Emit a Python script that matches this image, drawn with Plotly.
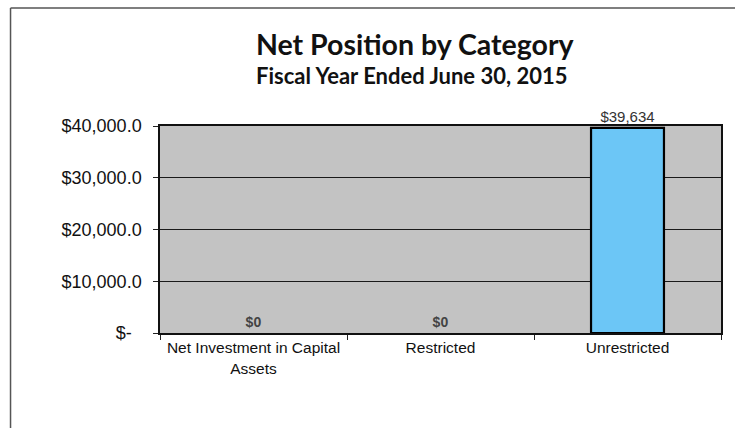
import plotly.graph_objects as go

categories = ["Net Investment in Capital<br>Assets", "Restricted", "Unrestricted"]
values = [0, 0, 39634]
labels = ["<b>$0</b>", "<b>$0</b>", "$39,634"]
y_ticks = [0, 10000, 20000, 30000, 40000]
y_tick_labels = ["$-\u00a0\u00a0", "$10,000.0", "$20,000.0", "$30,000.0", "$40,000.0"]
bar_colors = ["#6cc6f6", "#6cc6f6", "#6cc6f6"]

W, H = 735, 428
L, R, T, B = 160, 12, 126, 95
PW, PH = W - L - R, H - T - B


def px_x(x):
    return (x - L) / PW


def px_y(y):
    return 1 + (T - y) / PH


fig = go.Figure()
fig.add_trace(go.Bar(
    x=categories, y=values, text=labels, textposition="outside",
    textfont=dict(family="Arial, Liberation Sans", size=[14, 14, 15],
                  color=["#444444", "#444444", "#333333"]),
    marker=dict(color=bar_colors, line=dict(color="#000000", width=[0, 0, 2.2])),
    width=0.39, cliponaxis=False,
))

fig.update_layout(
    width=W, height=H,
    margin=dict(l=L, r=R, t=T, b=B),
    paper_bgcolor="#ffffff", plot_bgcolor="#c3c3c3",
    showlegend=False,
    font=dict(family="Arial, Liberation Sans", color="#111111"),
    annotations=[
        dict(text="<b>Net Position by Category</b>", xref="paper", yref="paper",
             x=px_x(416), y=px_y(44),
             showarrow=False, xanchor="center", yanchor="middle",
             font=dict(family="Lato", size=28.5, color="#111111")),
        dict(text="<b>Fiscal Year Ended June 30, 2015</b>", xref="paper", yref="paper",
             x=px_x(413), y=px_y(75),
             showarrow=False, xanchor="center", yanchor="middle",
             font=dict(family="Lato", size=22, color="#111111")),
    ],
    shapes=[
        dict(type="line", xref="paper", yref="paper",
             x0=px_x(10), x1=px_x(10), y0=px_y(8), y1=px_y(430),
             line=dict(color="#555555", width=1.5)),
        dict(type="line", xref="paper", yref="paper",
             x0=px_x(10), x1=px_x(W + 5), y0=px_y(8), y1=px_y(8),
             line=dict(color="#555555", width=1.5)),
    ],
)

fig.update_yaxes(
    range=[0, 40000], tickvals=y_ticks, ticktext=y_tick_labels,
    showgrid=True, gridcolor="#1a1a1a", gridwidth=1.2,
    ticks="outside", ticklen=5, tickcolor="#222222",
    showline=True, linecolor="#111111", linewidth=1.5, mirror=True,
    tickfont=dict(family="Arial, Liberation Sans", size=18, color="#111111"),
    zeroline=False, ticklabelstandoff=8,
)
fig.update_xaxes(
    showgrid=False, ticks="outside", ticklen=5, tickson="boundaries",
    tickcolor="#222222",
    showline=True, linecolor="#111111", linewidth=1.5, mirror=True,
    tickfont=dict(family="Arial, Liberation Sans", size=15.5, color="#111111"),
)

fig.write_html("out.html")
